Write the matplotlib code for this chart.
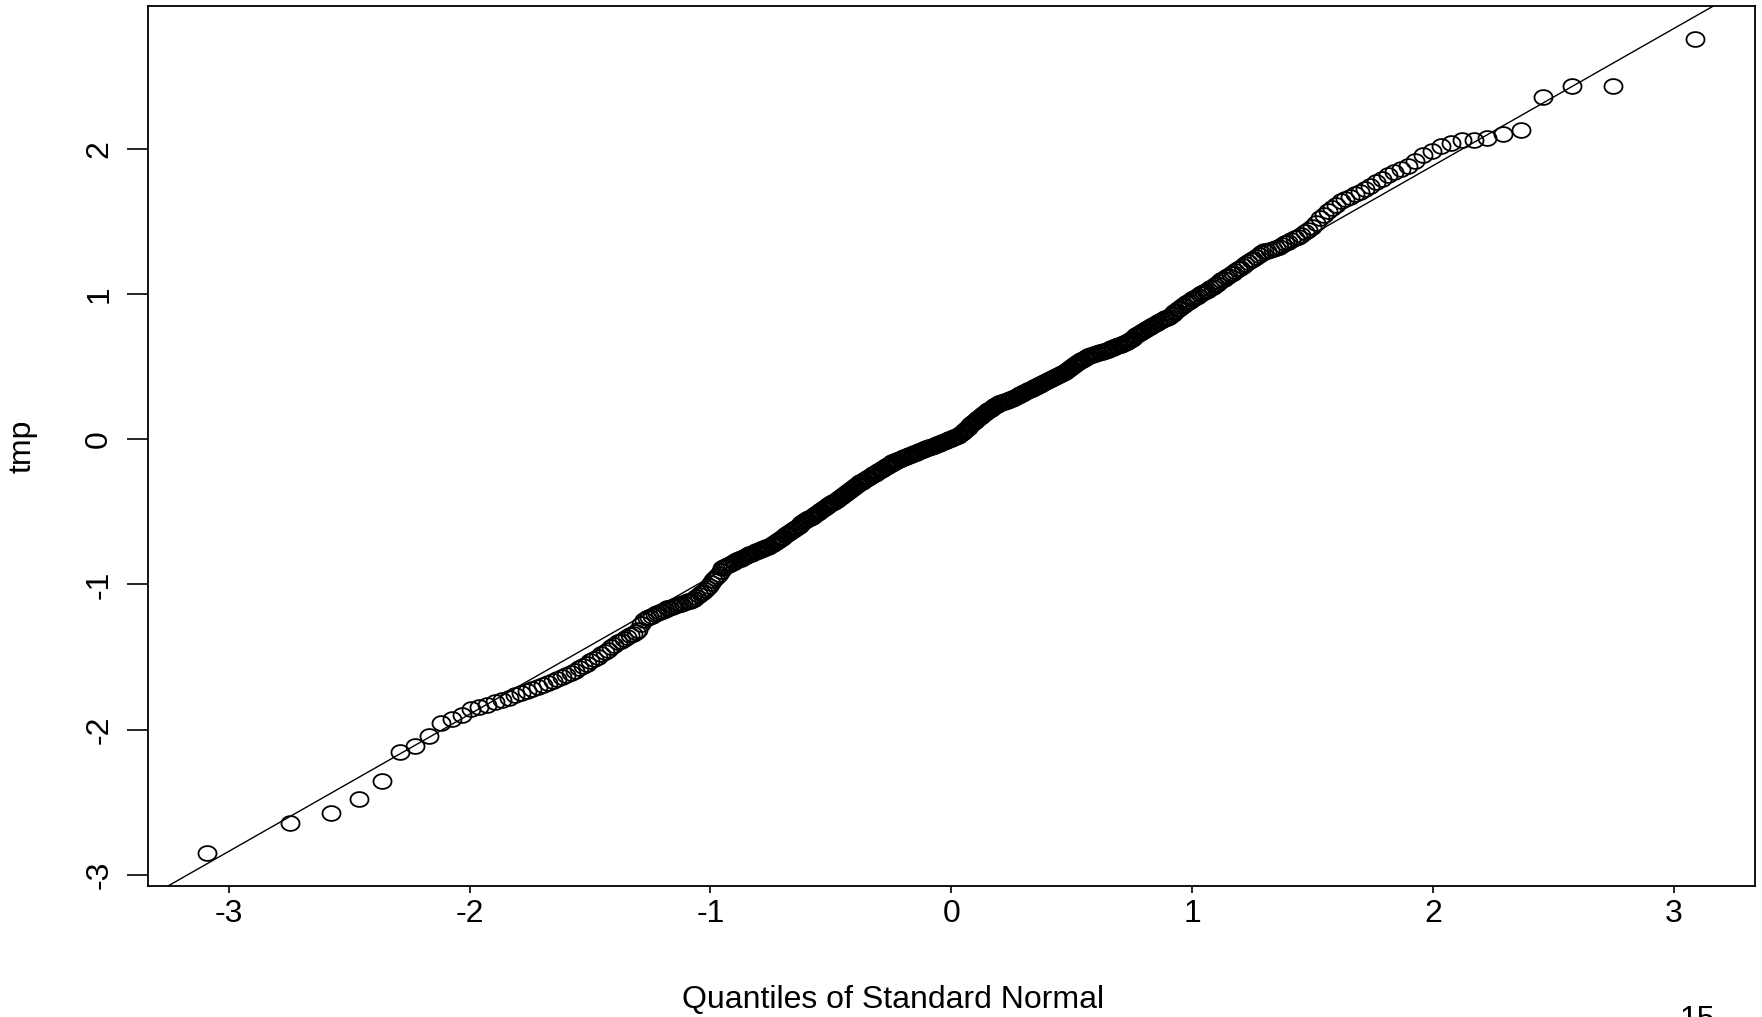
import matplotlib
matplotlib.use("Agg")
import matplotlib.pyplot as plt
from matplotlib.path import Path
import numpy as np
from statistics import NormalDist

# sorted sample values ("tmp"), lowest to highest
tmp = [
    -2.854, -2.647, -2.574, -2.481, -2.353, -2.153, -2.114, -2.045, -1.953, -1.930, -1.900, -1.862,
    -1.845, -1.830, -1.810,
    -1.795, -1.780, -1.765, -1.750, -1.735, -1.720,
    -1.706, -1.692, -1.679, -1.665, -1.652, -1.638, -1.625,
    -1.609, -1.594, -1.578, -1.563, -1.547, -1.531, -1.516, -1.500,
    -1.483, -1.467, -1.450, -1.433, -1.417, -1.400,
    -1.388, -1.376, -1.364, -1.352, -1.339, -1.327, -1.315,
    -1.270, -1.245, -1.232,
    -1.224, -1.215, -1.207, -1.199, -1.190, -1.182, -1.174, -1.165,
    -1.160, -1.154, -1.149, -1.143, -1.138, -1.132, -1.127, -1.122, -1.116, -1.111, -1.105, -1.100,
    -1.087, -1.074, -1.061, -1.049, -1.036, -1.023, -1.010,
    -0.990, -0.972, -0.955, -0.940, -0.925,
    -0.905, -0.890, -0.877,
    -0.871, -0.865, -0.858, -0.852, -0.846, -0.840, -0.834, -0.828, -0.822, -0.815, -0.809, -0.803, -0.797,
    -0.792, -0.787, -0.783, -0.778, -0.773, -0.768, -0.763, -0.759, -0.754, -0.749, -0.744, -0.739, -0.735, -0.730,
    -0.722, -0.715, -0.708, -0.700, -0.692, -0.685, -0.678, -0.670, -0.662, -0.655, -0.648,
    -0.640, -0.632, -0.625, -0.618, -0.610, -0.602, -0.595, -0.588, -0.580, -0.572, -0.565,
    -0.558, -0.552, -0.545, -0.539, -0.532, -0.526, -0.519, -0.512, -0.506, -0.499, -0.493, -0.486,
    -0.480, -0.473, -0.467, -0.461, -0.454, -0.448, -0.442, -0.435, -0.429, -0.423, -0.416, -0.410,
    -0.403, -0.397, -0.390, -0.383, -0.377, -0.370, -0.363, -0.357, -0.350, -0.343, -0.337, -0.330,
    -0.323, -0.317, -0.310, -0.303,
    -0.297, -0.292, -0.286, -0.281, -0.275, -0.270, -0.264, -0.258, -0.253, -0.247, -0.242, -0.236,
    -0.231, -0.225, -0.220, -0.214, -0.208, -0.203, -0.197, -0.192, -0.186, -0.181, -0.175, -0.170,
    -0.164, -0.158, -0.153,
    -0.150, -0.146, -0.143, -0.140, -0.136, -0.133, -0.130, -0.126, -0.123, -0.120, -0.116, -0.113,
    -0.110, -0.106, -0.103, -0.100, -0.096, -0.093, -0.090, -0.086, -0.083, -0.080, -0.076, -0.073,
    -0.070, -0.066, -0.063,
    -0.060, -0.056, -0.053, -0.050, -0.046, -0.043, -0.040, -0.036, -0.033, -0.030, -0.026, -0.023,
    -0.020, -0.016, -0.013, -0.010, -0.006, -0.003, 0.000, 0.004, 0.007, 0.010, 0.014, 0.017,
    0.020, 0.024,
    0.028, 0.036, 0.043, 0.051, 0.058, 0.066, 0.073, 0.081, 0.089, 0.096, 0.104, 0.111,
    0.119, 0.126, 0.134, 0.142, 0.149, 0.157,
    0.163, 0.169, 0.175, 0.181, 0.187, 0.193, 0.199, 0.205, 0.211, 0.217, 0.223, 0.229, 0.235, 0.240,
    0.243, 0.247, 0.250, 0.254, 0.257, 0.260, 0.264, 0.267, 0.270, 0.274, 0.277, 0.281, 0.284,
    0.288, 0.293, 0.297, 0.302, 0.306, 0.310, 0.315, 0.319, 0.324, 0.328, 0.332, 0.337, 0.341,
    0.345, 0.350, 0.354, 0.359, 0.363, 0.368, 0.372, 0.377, 0.381, 0.386, 0.390, 0.395, 0.399,
    0.404, 0.408, 0.413, 0.418, 0.422, 0.427, 0.432, 0.437, 0.441, 0.446, 0.451, 0.455, 0.460,
    0.467, 0.473, 0.480, 0.486, 0.493, 0.499, 0.506, 0.512, 0.519, 0.525, 0.532,
    0.537, 0.544, 0.550, 0.557, 0.563, 0.570,
    0.573, 0.577, 0.580, 0.583, 0.586, 0.589, 0.592, 0.596, 0.599, 0.602, 0.605, 0.609, 0.612, 0.615,
    0.619, 0.623, 0.628, 0.632, 0.636, 0.640, 0.644, 0.649, 0.653, 0.657, 0.661, 0.666, 0.670,
    0.678, 0.686, 0.693, 0.701, 0.709, 0.717, 0.724, 0.732, 0.740, 0.748, 0.755, 0.763,
    0.770, 0.776, 0.782, 0.789, 0.795, 0.801, 0.808, 0.814, 0.820, 0.827, 0.833, 0.836,
    0.846, 0.856, 0.867, 0.877, 0.887, 0.897, 0.907, 0.918, 0.928,
    0.937, 0.946, 0.955, 0.964, 0.973, 0.982, 0.991, 1.000,
    1.006, 1.013, 1.019,
    1.030, 1.041, 1.052, 1.063, 1.074, 1.085, 1.096, 1.107, 1.118,
    1.125, 1.137, 1.149, 1.161, 1.172, 1.184, 1.196, 1.208,
    1.220, 1.233, 1.245, 1.258, 1.270, 1.283, 1.295,
    1.301, 1.308, 1.314, 1.321, 1.327,
    1.339, 1.350, 1.362, 1.373, 1.385,
    1.394, 1.411, 1.428, 1.444, 1.461,
    1.490, 1.526,
    1.549, 1.572, 1.595, 1.617, 1.640,
    1.656, 1.673, 1.689, 1.706, 1.722,
    1.745, 1.771, 1.797, 1.823,
    1.845, 1.863, 1.881,
    1.920, 1.962,
    1.985, 2.024, 2.043, 2.061, 2.066, 2.077, 2.107, 2.130, 2.360, 2.433, 2.438, 2.762,
]

x_ticks = [-3, -2, -1, 0, 1, 2, 3]
y_ticks = [-3, -2, -1, 0, 1, 2]
x_label = "Quantiles of Standard Normal"
y_label = "tmp"
page_number = "15"

FONT = ["Liberation Sans", "DejaVu Sans"]
plt.rcParams["font.family"] = FONT
FS = 23

y = np.sort(np.array(tmp))
n = len(y)
nd = NormalDist()
# R's ppoints / qqnorm theoretical quantiles
x = np.array([nd.inv_cdf((i - 0.5) / n) for i in range(1, n + 1)])

# qqline through the quartiles (R default)
qy = np.quantile(y, [0.25, 0.75])
qx = np.array([nd.inv_cdf(0.25), nd.inv_cdf(0.75)])
slope = (qy[1] - qy[0]) / (qx[1] - qx[0])
intercept = qy[0] - slope * qx[0]

W, H = 1762, 1017
fig = plt.figure(figsize=(W / 100, H / 100), dpi=100)
left, right, top, bottom = 147.5, 1755, 6, 886
ax = fig.add_axes([left / W, 1 - bottom / H, (right - left) / W, (bottom - top) / H])

# slightly elliptical open circle marker (as in the reference)
t = np.linspace(0, 2 * np.pi, 60)
ell = Path(np.column_stack([np.cos(t), 0.82 * np.sin(t)]), closed=True)

ax.plot(x, y, linestyle="none", marker=ell, markersize=13,
        markerfacecolor="none", markeredgecolor="black", markeredgewidth=1.3)
ax.axline((0, intercept), slope=slope, color="black", linewidth=1.0)

xr = x.max() - x.min()
yr = y.max() - y.min()
ax.set_xlim(x.min() - 0.04 * xr, x.max() + 0.04 * xr)
ax.set_ylim(y.min() - 0.04 * yr, y.max() + 0.04 * yr)

ax.set_xticks(x_ticks)
ax.set_yticks(y_ticks)
ax.set_xticklabels([str(v) for v in x_ticks])
ax.set_yticklabels([str(v) for v in y_ticks], rotation=90, va="center")
ax.tick_params(axis="both", direction="out", width=1.2, labelsize=FS,
               color="black", labelcolor="black")
ax.tick_params(axis="y", length=15, pad=9)
ax.tick_params(axis="x", length=5, pad=4)
for s in ax.spines.values():
    s.set_linewidth(1.3)
    s.set_color("black")

fig.text(893 / W, 1 - 1000 / H, x_label, ha="center", va="center", fontsize=FS)
fig.text(23 / W, 1 - 446 / H, y_label, ha="center", va="center", rotation=90, fontsize=FS)
fig.text(1697 / W, 1 - 1005 / H, page_number, ha="center", va="top", fontsize=FS)

fig.savefig("out.png", dpi=100)
